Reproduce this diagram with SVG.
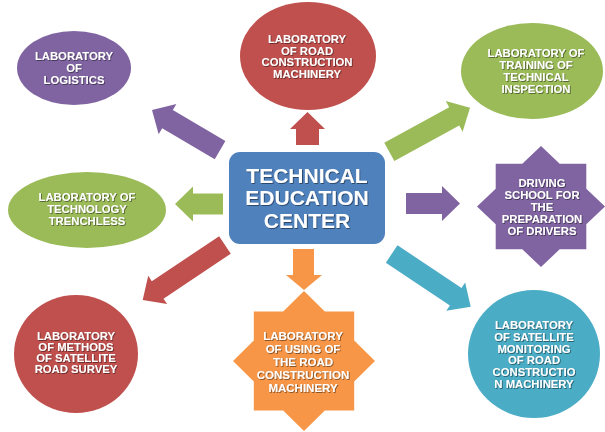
<svg xmlns="http://www.w3.org/2000/svg" width="605" height="432" viewBox="0 0 605 432">
<defs>
<filter id="ts" x="-10%" y="-10%" width="120%" height="130%">
<feDropShadow dx="0.8" dy="0.8" stdDeviation="0.6" flood-color="#000" flood-opacity="0.55"/>
</filter>
</defs>
<style>
text{font-family:"Liberation Sans",Arial,sans-serif;font-weight:bold;fill:#fff;text-anchor:middle;filter:url(#ts)}
.s{font-size:11.3px}
.m{font-size:11.5px}
.c{font-size:21px}
.purple{fill:#8064A2}
.red{fill:#C0504D}
.green{fill:#9BBB59}
.blue{fill:#4F81BD}
.teal{fill:#4BACC6}
.orange{fill:#F79646}
</style>
<rect width="605" height="432" fill="#fff"/>
<g id="connectors">
<polygon class="purple" transform="translate(152,110) rotate(210.5)" points="0,0 -18,-17.5 -18,-10.5 -79,-10.5 -79,10.5 -18,10.5 -18,17.5"/>
<polygon class="red" points="307.5,112 325,129 319,129 319,145 296,145 296,129 290,129"/>
<polygon class="green" transform="translate(470,107.7) rotate(-28.7)" points="0,0 -18,-17.5 -18,-10.5 -92,-10.5 -92,10.5 -18,10.5 -18,17.5"/>
<polygon class="purple" points="460,203.5 442,186 442,193 406,193 406,214 442,214 442,221"/>
<polygon class="green" points="175,204 193,186.5 193,193.5 223,193.5 223,214.5 193,214.5 193,221.5"/>
<polygon class="red" transform="translate(142.7,300) rotate(146.2)" points="0,0 -18,-17 -18,-10.5 -99,-10.5 -99,10.5 -18,10.5 -18,17"/>
<polygon class="orange" points="304,290 322,275 314,275 314,249 293,249 293,275 286,275"/>
<polygon class="teal" transform="translate(470.7,306.7) rotate(33.7)" points="0,0 -18,-17 -18,-10.5 -95,-10.5 -95,10.5 -18,10.5 -18,17"/>
</g>
<g id="center">
<rect class="blue" x="229" y="152" width="156" height="92" rx="11" ry="11"/>
<text class="c" x="307" y="182.5">TECHNICAL</text>
<text class="c" x="307" y="205">EDUCATION</text>
<text class="c" x="307" y="227.5">CENTER</text>
</g>
<g id="logistics">
<ellipse class="purple" cx="74" cy="68" rx="57" ry="37"/>
<text class="s" x="74" y="60">LABORATORY</text>
<text class="s" x="74" y="72">OF</text>
<text class="s" x="74" y="84">LOGISTICS</text>
</g>
<g id="road-construction">
<ellipse class="red" cx="308" cy="56" rx="68" ry="54"/>
<text class="s" x="307" y="43">LABORATORY</text>
<text class="s" x="307" y="54.7">OF ROAD</text>
<text class="s" x="307" y="66.4">CONSTRUCTION</text>
<text class="s" x="307" y="78">MACHINERY</text>
</g>
<g id="training">
<ellipse class="green" cx="532" cy="71" rx="71" ry="48"/>
<text class="s" x="536" y="57">LABORATORY OF</text>
<text class="s" x="536" y="69">TRAINING OF</text>
<text class="s" x="536" y="81">TECHNICAL</text>
<text class="s" x="536" y="93">INSPECTION</text>
</g>
<g id="trenchless">
<ellipse class="green" cx="87" cy="210" rx="79" ry="38"/>
<text class="s" x="87" y="201">LABORATORY OF</text>
<text class="s" x="87" y="213">TECHNOLOGY</text>
<text class="s" x="87" y="225">TRENCHLESS</text>
</g>
<g id="driving-school">
<polygon class="purple" points="541,146 559.7,163.7 586.3,163.7 586.3,188.8 605,206.5 586.3,224.2 586.3,249.3 559.7,249.3 541,267 522.3,249.3 495.7,249.3 495.7,224.2 477,206.5 495.7,188.8 495.7,163.7 522.3,163.7"/>
<text class="s" x="542" y="187">DRIVING</text>
<text class="s" x="542" y="199">SCHOOL FOR</text>
<text class="s" x="542" y="211">THE</text>
<text class="s" x="542" y="223">PREPARATION</text>
<text class="s" x="542" y="235">OF DRIVERS</text>
</g>
<g id="satellite-survey">
<ellipse class="red" cx="76" cy="354" rx="62" ry="59"/>
<text class="s" x="76" y="340">LABORATORY</text>
<text class="s" x="76" y="351">OF METHODS</text>
<text class="s" x="76" y="362">OF SATELLITE</text>
<text class="s" x="76" y="373">ROAD SURVEY</text>
</g>
<g id="using-machinery">
<polygon class="orange" points="304,291 324.8,311.5 354.2,311.5 354.2,340.5 375,361 354.2,381.5 354.2,410.5 324.8,410.5 304,431 283.2,410.5 253.8,410.5 253.8,381.5 233,361 253.8,340.5 253.8,311.5 283.2,311.5"/>
<text class="m" x="303" y="339.5">LABORATORY</text>
<text class="m" x="303" y="352.5">OF USING OF</text>
<text class="m" x="303" y="365.5">THE ROAD</text>
<text class="m" x="303" y="378.5">CONSTRUCTION</text>
<text class="m" x="303" y="391.5">MACHINERY</text>
</g>
<g id="satellite-monitoring">
<ellipse class="teal" cx="534" cy="354" rx="66" ry="64"/>
<text class="s" x="534" y="329">LABORATORY</text>
<text class="s" x="534" y="341">OF SATELLITE</text>
<text class="s" x="534" y="352.5">MONITORING</text>
<text class="s" x="534" y="364">OF ROAD</text>
<text class="s" x="534" y="376">CONSTRUCTIO</text>
<text class="s" x="534" y="388">N MACHINERY</text>
</g>
</svg>
